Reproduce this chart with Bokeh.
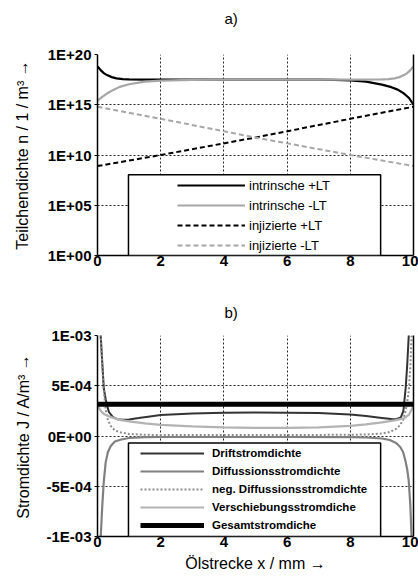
from bokeh.plotting import figure
from bokeh.layouts import column
from bokeh.models import (Range1d, FixedTicker, Legend, LegendItem, BoxAnnotation,
                          LinearAxis, LogAxis, Title)
from bokeh.embed import file_html
from bokeh.resources import INLINE

FONT = "Liberation Sans"

# ---------------- data: a) Teilchendichte ----------------
x_ticks = [0, 2, 4, 6, 8, 10]

y_ticks_a = [1.0, 1e5, 1e10, 1e15, 1e20]
y_labels_a = ["1E+00", "1E+05", "1E+10", "1E+15", "1E+20"]

x_intr_plus = [0, 0.1, 0.2, 0.3, 0.45, 0.6, 0.8, 1.0, 1.5, 2, 4, 6, 7, 7.5, 8, 8.5, 9, 9.3, 9.5, 9.7, 9.85, 10]
n_intr_plus = [6.3e18, 2.8e18, 1.4e18, 8.9e17, 5.6e17, 4.2e17, 3.5e17, 3.3e17, 3.2e17, 3.2e17, 3.2e17,
               3.2e17, 3.1e17, 3.0e17, 2.6e17, 2.0e17, 1.0e17, 5.6e16, 3.2e16, 1.3e16, 5.0e15, 1.0e15]

x_intr_minus = [0, 0.15, 0.3, 0.5, 0.7, 1.0, 1.5, 2, 3, 4, 6, 8, 9, 9.2, 9.4, 9.55, 9.7, 9.8, 9.9, 10]
n_intr_minus = [2.5e15, 6e15, 1.3e16, 3e16, 6e16, 1.1e17, 2e17, 2.5e17, 3e17, 3.2e17, 3.2e17, 3.2e17,
                3.3e17, 3.5e17, 4.2e17, 5.6e17, 8.9e17, 1.4e18, 2.8e18, 6.3e18]

x_inj = [0, 2, 5, 8, 10]
n_inj_plus = [8e8, 1e10, 5.5e11, 4e13, 6.3e14]
n_inj_minus = [6.3e14, 4e13, 5.5e11, 1e10, 8e8]

labels_a = ["intrinsche +LT", "intrinsche -LT", "injizierte +LT", "injizierte -LT"]

# ---------------- data: b) Stromdichte ----------------
y_ticks_b = [-1e-3, -5e-4, 0.0, 5e-4, 1e-3]
y_labels_b = ["-1E-03", "-5E-04", "0E+00", "5E-04", "1E-03"]

x_drift = [0, 0.05, 0.1, 0.2, 0.28, 0.36, 0.48, 0.62, 0.8, 1.0, 1.3, 1.6, 2, 3, 4, 5, 6, 7, 8, 8.5,
           9.0, 9.3, 9.45, 9.6, 9.68, 9.75, 9.8, 9.85, 9.92, 10]
j_drift = [3e-3, 1.6e-3, 1e-3, 4.7e-4, 3.3e-4, 2.4e-4, 1.9e-4, 1.67e-4, 1.62e-4, 1.65e-4, 1.78e-4,
           1.92e-4, 2.1e-4, 2.25e-4, 2.32e-4, 2.33e-4, 2.32e-4, 2.28e-4, 2.15e-4, 2.0e-4,
           1.8e-4, 1.68e-4, 1.67e-4, 1.85e-4, 2.5e-4, 4.7e-4, 7e-4, 1e-3, 1.6e-3, 3e-3]

x_diff = [0, 0.05, 0.1, 0.15, 0.2, 0.26, 0.33, 0.42, 0.55, 0.75, 1.0, 1.5, 2, 4, 6, 8, 8.5, 9, 9.25,
          9.45, 9.58, 9.67, 9.74, 9.8, 9.85, 9.9, 9.95, 10]
j_diff = [-3e-3, -1.6e-3, -1.02e-3, -7e-4, -4.5e-4, -2.6e-4, -1.6e-4, -1.0e-4, -0.55e-4, -0.35e-4,
          -0.2e-4, -0.12e-4, -0.1e-4, -0.1e-4, -0.1e-4, -0.12e-4, -0.15e-4, -0.25e-4, -0.4e-4,
          -0.7e-4, -1.1e-4, -1.6e-4, -2.4e-4, -3.3e-4, -4.5e-4, -6.9e-4, -1.1e-3, -3e-3]
j_neg_diff = [-v for v in j_diff]

x_disp = [0, 0.1, 0.2, 0.4, 0.7, 1.0, 1.5, 2, 3, 4, 5, 6, 7, 8, 8.5, 9, 9.4, 9.7, 9.85, 9.95, 10]
j_disp = [3.07e-4, 2.5e-4, 2.2e-4, 1.9e-4, 1.6e-4, 1.45e-4, 1.25e-4, 1.1e-4, 0.95e-4, 0.85e-4,
          0.8e-4, 0.8e-4, 0.85e-4, 1.0e-4, 1.15e-4, 1.35e-4, 1.55e-4, 1.75e-4, 2.1e-4, 2.7e-4, 3.07e-4]

x_total = [0, 10]
j_total = [3.17e-4, 3.17e-4]

labels_b = ["Driftstromdichte", "Diffussionsstromdichte", "neg. Diffussionsstromdichte",
            "Verschiebungsstromdiche", "Gesamtstromdiche"]


def style(p, yticks, ylabels, ylabel, xlabel_text, ystandoff):
    p.outline_line_color = None
    p.background_fill_color = "white"
    p.border_fill_color = "white"
    p.xaxis.ticker = FixedTicker(ticks=x_ticks)
    p.yaxis.ticker = FixedTicker(ticks=yticks)
    p.yaxis.major_label_overrides = {t: l for t, l in zip(yticks, ylabels)}
    for ax in p.xaxis + p.yaxis:
        ax.axis_line_color = "black"
        ax.axis_line_width = 1.5
        ax.minor_tick_line_color = None
        ax.major_tick_in = 0
        ax.major_label_text_font = FONT
        ax.major_label_text_font_style = "bold"
        ax.major_label_text_font_size = "15px"
        ax.major_label_text_color = "black"
        ax.axis_label_text_font = FONT
        ax.axis_label_text_font_style = "normal"
        ax.axis_label_text_font_size = "16px"
        ax.axis_label_text_color = "black"
    p.xaxis.major_tick_out = 0
    p.xaxis.major_label_standoff = 0
    p.yaxis.major_tick_out = 3
    p.yaxis.major_tick_line_color = "black"
    p.yaxis.major_label_standoff = 3
    p.yaxis.axis_label = ylabel
    p.yaxis.axis_label_standoff = ystandoff
    if xlabel_text:
        p.xaxis.axis_label = xlabel_text
        p.xaxis.axis_label_standoff = 5
    for g in p.xgrid + p.ygrid:
        g.grid_line_color = "black"
        g.grid_line_dash = "2 2"
        g.grid_line_width = 1
        g.grid_line_alpha = 0.85
    p.xgrid.ticker = FixedTicker(ticks=x_ticks)
    p.ygrid.ticker = FixedTicker(ticks=yticks)


def panel_title(text, standoff):
    return Title(text=text, text_font=FONT, text_font_size="15px", text_font_style="normal",
                 text_color="black", align="left", offset=127, vertical_align="top",
                 standoff=standoff)


# ---------------- figure a ----------------
pa = figure(width=418, height=290, y_axis_type="log", x_range=Range1d(0, 10),
            y_range=Range1d(1.0, 1e20), output_backend="svg", toolbar_location=None,
            min_border_left=97, min_border_right=5, min_border_top=54, min_border_bottom=35)
style(pa, y_ticks_a, y_labels_a, "Teilchendichte n / 1 / m³ →", "", 14)
pa.add_layout(Title(text=" ", text_font_size="15px", standoff=0), "above")
pa.add_layout(panel_title("a)", 14), "above")

ra1 = pa.line(x_intr_plus, n_intr_plus, line_color="black", line_width=2.2)
ra2 = pa.line(x_intr_minus, n_intr_minus, line_color="#a6a6a6", line_width=2.2)
ra3 = pa.line(x_inj, n_inj_plus, line_color="black", line_width=2, line_dash="5 3")
ra4 = pa.line(x_inj, n_inj_minus, line_color="#a6a6a6", line_width=2, line_dash="5 3")

ra_right = LogAxis(ticker=FixedTicker(ticks=[]), axis_line_color="black", axis_line_width=1.5,
                   major_tick_out=0, major_tick_in=0, minor_tick_line_color=None,
                   major_label_text_font_size="0px", major_label_standoff=0)
pa.add_layout(ra_right, "right")

box_a = BoxAnnotation(left=0.98, right=8.96, bottom=1.0, top=1.1e8, fill_color="white",
                      fill_alpha=1, line_color="black", line_alpha=1, line_width=1.5)
pa.add_layout(box_a)
leg_a = Legend(items=[LegendItem(label=l, renderers=[r]) for l, r in zip(labels_a, [ra1, ra2, ra3, ra4])],
               location=(80, 0), padding=0, margin=0, spacing=0, glyph_width=68, glyph_height=20,
               label_height=20, label_standoff=4, label_text_font=FONT, label_text_font_size="13px",
               label_text_color="black", border_line_color=None, background_fill_alpha=0)
pa.add_layout(leg_a)

# ---------------- figure b ----------------
pb = figure(width=418, height=289, x_range=Range1d(0, 10), y_range=Range1d(-1e-3, 1e-3),
            output_backend="svg", toolbar_location=None,
            min_border_left=97, min_border_right=5, min_border_top=44, min_border_bottom=43)
style(pb, y_ticks_b, y_labels_b, "Stromdichte J / A/m³ →", "Ölstrecke x / mm →", 11)
pb.add_layout(panel_title("b)", 26), "above")

rb1 = pb.line(x_drift, j_drift, line_color="#333333", line_width=2)
rb2 = pb.line(x_diff, j_diff, line_color="#808080", line_width=2.2)
rb3 = pb.line(x_diff, j_neg_diff, line_color="#8c8c8c", line_width=2, line_dash="2 2")
rb4 = pb.line(x_disp, j_disp, line_color="#b3b3b3", line_width=2.2)
rb5 = pb.line(x_total, j_total, line_color="black", line_width=5)

rb_right = LinearAxis(ticker=FixedTicker(ticks=[]), axis_line_color="black", axis_line_width=1.5,
                      major_tick_out=0, major_tick_in=0, minor_tick_line_color=None,
                      major_label_text_font_size="0px", major_label_standoff=0)
pb.add_layout(rb_right, "right")

box_b = BoxAnnotation(left=0.98, right=8.96, bottom=-1e-3, top=-7e-5, fill_color="white",
                      fill_alpha=1, line_color="black", line_alpha=1, line_width=1.5)
pb.add_layout(box_b)
leg_b = Legend(items=[LegendItem(label=l, renderers=[r]) for l, r in zip(labels_b, [rb1, rb2, rb3, rb4, rb5])],
               location=(43, 2), padding=0, margin=0, spacing=0, glyph_width=64, glyph_height=18,
               label_height=18, label_standoff=8, label_text_font=FONT, label_text_font_size="11.5px",
               label_text_font_style="bold", label_text_color="black", border_line_color=None,
               background_fill_alpha=0)
pb.add_layout(leg_b)

layout = column(pa, pb, spacing=0)
open("out.html", "w").write(file_html(layout, INLINE))
